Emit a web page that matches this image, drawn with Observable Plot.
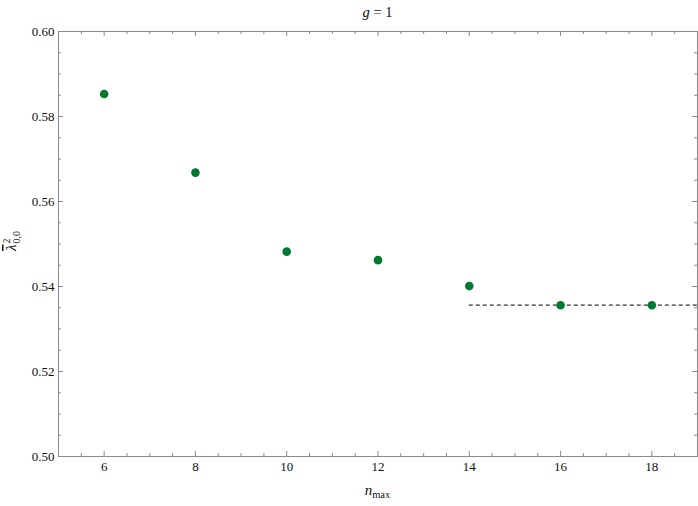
<!DOCTYPE html>
<html>
<head>
<meta charset="utf-8">
<script src="https://cdn.jsdelivr.net/npm/d3@7"></script>
<script src="https://cdn.jsdelivr.net/npm/@observablehq/plot@0.6"></script>
<style>
  html, body { margin: 0; padding: 0; background: #fff; }
  #chart svg { display: block; }
</style>
</head>
<body>
<div id="chart"></div>
<script>
// Data
const nmax = [6, 8, 10, 12, 14, 16, 18];
const lambda = [0.5853, 0.5668, 0.5482, 0.5462, 0.5401, 0.5356, 0.5356];
const limitValue = [0.5356];
const limitFrom = [14];
const limitTo = [19];

const xMajor = [6, 8, 10, 12, 14, 16, 18];
const yMajor = [0.50, 0.52, 0.54, 0.56, 0.58, 0.60];
const xDomain = [5, 19];
const yDomain = [0.50, 0.60];
const titleText = ["g", " = 1"];

const xMinor = d3.range(5, 19.001, 0.5).filter(v => !xMajor.includes(v));
const yMinor = d3.range(0.50, 0.6001, 0.005).map(v => +v.toFixed(3)).filter(v => !yMajor.some(m => Math.abs(m - v) < 1e-9));

const points = nmax.map((n, i) => ({n, v: lambda[i]}));
const limit = limitValue.map((v, i) => ({v, x1: limitFrom[i], x2: limitTo[i]}));

const W = 698, H = 506;
const mt = 31, mb = 50, ml = 58, mr = 1;
const fw = W - ml - mr, fh = H - mt - mb;
const tickCol = "#8a8a8a";
const majLen = 5, minLen = 3;
const font = "'Liberation Serif', 'Times New Roman', serif";

const chart = Plot.plot({
  width: W,
  height: H,
  marginTop: mt,
  marginBottom: mb,
  marginLeft: ml,
  marginRight: mr,
  style: {fontFamily: font, fontSize: "13px", color: "#111", background: "#fff"},
  x: {domain: xDomain},
  y: {domain: yDomain},
  marks: [
    // inward frame ticks: bottom & top
    Plot.tickX(xMajor, {x: d => d, stroke: tickCol, insetTop: fh - majLen}),
    Plot.tickX(xMinor, {x: d => d, stroke: tickCol, insetTop: fh - minLen}),
    Plot.tickX(xMajor, {x: d => d, stroke: tickCol, insetBottom: fh - majLen}),
    Plot.tickX(xMinor, {x: d => d, stroke: tickCol, insetBottom: fh - minLen}),
    // inward frame ticks: left & right
    Plot.tickY(yMajor, {y: d => d, stroke: tickCol, insetRight: fw - majLen}),
    Plot.tickY(yMinor, {y: d => d, stroke: tickCol, insetRight: fw - minLen}),
    Plot.tickY(yMajor, {y: d => d, stroke: tickCol, insetLeft: fw - majLen}),
    Plot.tickY(yMinor, {y: d => d, stroke: tickCol, insetLeft: fw - minLen}),
    Plot.axisX(xMajor, {tickSize: 0, tickPadding: 5, label: null, fill: "#111"}),
    Plot.axisY(yMajor, {tickSize: 0, tickPadding: 4, label: null, tickFormat: d3.format(".2f"), fill: "#111"}),
    Plot.frame({stroke: tickCol}),
    Plot.ruleY(limit, {y: "v", x1: "x1", x2: "x2", stroke: "#333", strokeWidth: 1.2, strokeDasharray: "4,3"}),
    Plot.dot(points, {x: "n", y: "v", r: 4.3, fill: "#007a33", stroke: "none"})
  ]
});

document.getElementById("chart").appendChild(chart);

// Title and axis labels with mathematical styling (real text)
const svg = d3.select(chart);
const cx = ml + fw / 2;

const title = svg.append("text")
  .attr("x", cx).attr("y", 17)
  .attr("text-anchor", "middle")
  .attr("font-family", font).attr("font-size", 14.5).attr("fill", "#111");
title.append("tspan").attr("font-style", "italic").text(titleText[0]);
title.append("tspan").text(titleText[1]);

const xl = svg.append("text")
  .attr("x", cx).attr("y", 495)
  .attr("text-anchor", "middle")
  .attr("font-family", font).attr("font-size", 15).attr("fill", "#111");
xl.append("tspan").attr("font-style", "italic").text("n");
xl.append("tspan").attr("font-size", 10.5).attr("dy", 3).text("max");

const yl = svg.append("text")
  .attr("transform", `translate(16, 241) rotate(-90)`)
  .attr("text-anchor", "middle")
  .attr("font-family", font).attr("font-size", 15).attr("fill", "#111");
yl.append("tspan").attr("font-style", "italic").style("text-decoration", "overline").text("\u03BB");
yl.append("tspan").attr("font-size", 10).attr("dx", 1).attr("dy", -6).text("2");
yl.append("tspan").attr("font-size", 10).attr("dx", -5).attr("dy", 10).text("0,0");
</script>
</body>
</html>
